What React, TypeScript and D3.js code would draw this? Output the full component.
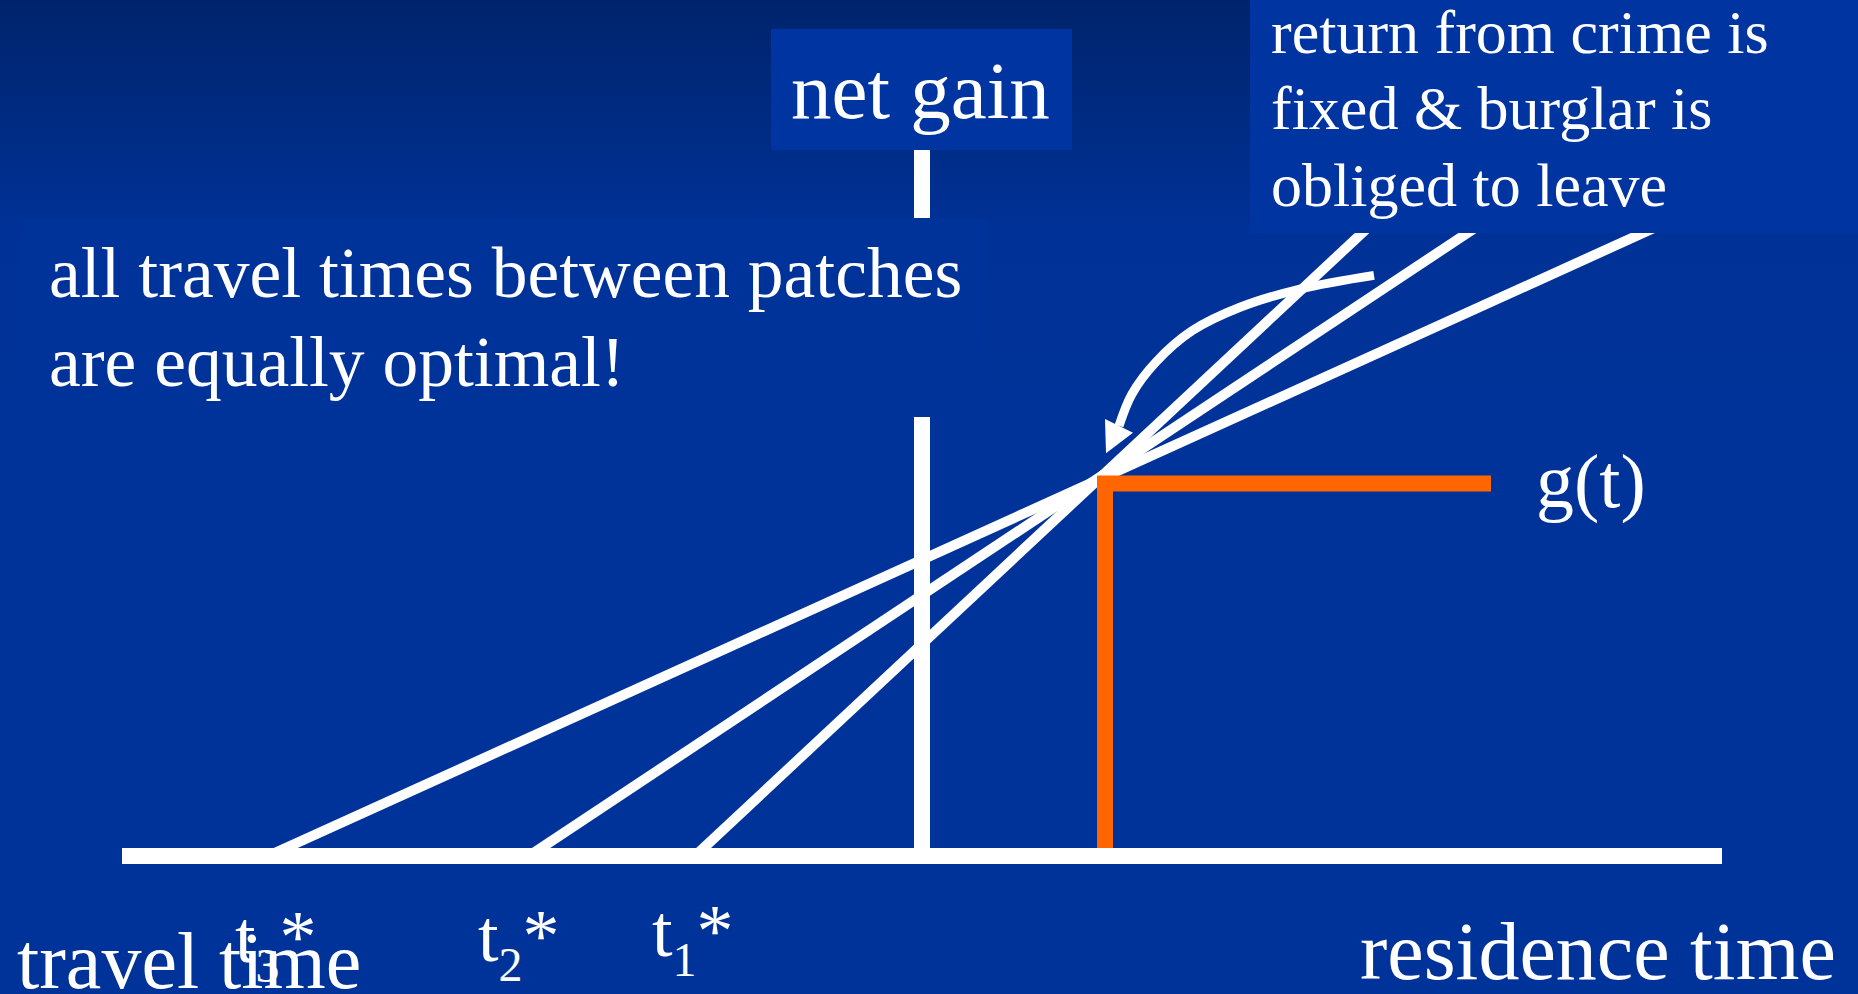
import React from "react";
import * as d3 from "d3";

// ---- data (in chart units) ----
const X_DOMAIN = [-8, 8];
const Y_DOMAIN = [0, 10];
const tStarNames = ["3", "2", "1"];
const tStarValues = [-6.54, -3.93, -2.27]; // x-intercepts (travel times)
const tangentTopX = [7.6, 5.72, 4.59]; // where each tangent leaves the plot (hidden under box)
const tangentTopY = 8.43;
const gStepX = [1.83, 1.83, 5.69];
const gStepY = [0, 4.9, 4.9];
const arrowX = [4.52, 3.78, 3.18, 2.7, 2.34, 2.1, 1.97];
const arrowY = [7.64, 7.46, 7.22, 6.91, 6.5, 6.08, 5.66];
const arrowHeadX = [1.83, 2.11, 1.84];
const arrowHeadY = [5.75, 5.57, 5.3];
const verticalAxisTop = 9.5;

const W = 1858;
const H = 994;
const FONT = "'Liberation Serif', 'Times New Roman', serif";
const labelDx = [-33, -51, -43];
const labelBaseline = [962, 961, 956];

export default function App() {
  const x = d3.scaleLinear().domain(X_DOMAIN).range([122, 1722]);
  const y = d3.scaleLinear().domain(Y_DOMAIN).range([856, 96]);
  const line = d3.line<[number, number]>().x((d) => x(d[0])).y((d) => y(d[1]));
  const curve = d3
    .line<[number, number]>()
    .x((d) => x(d[0]))
    .y((d) => y(d[1]))
    .curve(d3.curveCatmullRom.alpha(0.5));

  const gPts = gStepX.map((v, i) => [v, gStepY[i]] as [number, number]);
  const arrowPts = arrowX.map((v, i) => [v, arrowY[i]] as [number, number]);
  const headPts = arrowHeadX.map((v, i) => `${x(v)},${y(arrowHeadY[i])}`).join(" ");

  return (
    <svg
      width={W}
      height={H}
      style={{ position: "absolute", left: 0, top: 0, display: "block" }}
    >
      <defs>
        <linearGradient id="bg" x1="0" y1="0" x2="0" y2="1">
          <stop offset="0" stopColor="#00246c" />
          <stop offset="0.23" stopColor="#003196" />
          <stop offset="0.4" stopColor="#003399" />
          <stop offset="1" stopColor="#003399" />
        </linearGradient>
      </defs>
      <rect x={0} y={0} width={W} height={H} fill="url(#bg)" />

      {/* tangent lines */}
      {tStarValues.map((t, i) => (
        <path
          key={i}
          d={line([
            [t, 0],
            [tangentTopX[i], tangentTopY],
          ]) as string}
          stroke="#ffffff"
          strokeWidth={10}
          fill="none"
        />
      ))}

      {/* g(t) step */}
      <path
        d={line(gPts) as string}
        stroke="#ff6600"
        strokeWidth={16}
        fill="none"
        strokeLinejoin="miter"
      />

      {/* axes */}
      <line
        x1={x(X_DOMAIN[0])}
        x2={x(X_DOMAIN[1])}
        y1={y(0)}
        y2={y(0)}
        stroke="#ffffff"
        strokeWidth={16}
      />
      <line
        x1={x(0)}
        x2={x(0)}
        y1={y(0) - 8}
        y2={y(verticalAxisTop)}
        stroke="#ffffff"
        strokeWidth={16}
      />

      {/* curved arrow */}
      <path d={curve(arrowPts) as string} stroke="#ffffff" strokeWidth={9} fill="none" />
      <polygon points={headPts} fill="#ffffff" />

      {/* text boxes */}
      <rect x={771} y={29} width={301} height={121} fill="#0034a0" />
      <text x={791} y={118} fill="#ffffff" fontFamily={FONT} fontSize={81}>
        net gain
      </text>

      <rect x={24} y={218} width={964} height={199} fill="#003399" />
      <text x={49} y={297} fill="#ffffff" fontFamily={FONT} fontSize={71.5}>
        all travel times between patches
      </text>
      <text x={49} y={386} fill="#ffffff" fontFamily={FONT} fontSize={71.5}>
        are equally optimal!
      </text>

      <rect x={1250} y={0} width={W - 1250} height={233} fill="#0034a0" />
      <text x={1271} y={53} fill="#ffffff" fontFamily={FONT} fontSize={62}>
        return from crime is
      </text>
      <text x={1271} y={129} fill="#ffffff" fontFamily={FONT} fontSize={62}>
        fixed &amp; burglar is
      </text>
      <text x={1271} y={206} fill="#ffffff" fontFamily={FONT} fontSize={62}>
        obliged to leave
      </text>

      <text x={1536} y={507} fill="#ffffff" fontFamily={FONT} fontSize={76}>
        g(t)
      </text>

      {/* axis titles */}
      <text x={17} y={988} fill="#ffffff" fontFamily={FONT} fontSize={80}>
        travel time
      </text>
      <text x={1360} y={979} fill="#ffffff" fontFamily={FONT} fontSize={82}>
        residence time
      </text>

      {/* t* labels */}
      {tStarValues.map((t, i) => (
        <text
          key={"l" + i}
          x={x(t) + labelDx[i]}
          y={labelBaseline[i]}
          fill="#ffffff"
          fontFamily={FONT}
          fontSize={74}
        >
          t
          <tspan fontSize={48} dy={20}>
            {tStarNames[i]}
          </tspan>
          <tspan fontSize={74} dy={-20}>
            *
          </tspan>
        </text>
      ))}
    </svg>
  );
}
